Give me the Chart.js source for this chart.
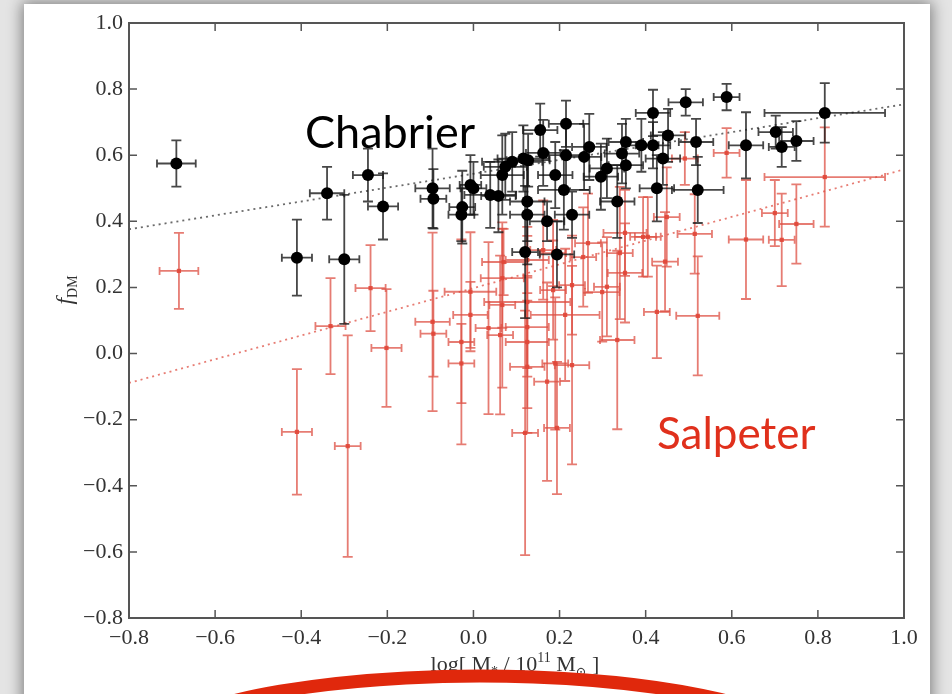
<!DOCTYPE html>
<html>
<head>
<meta charset="utf-8">
<script src="https://cdn.jsdelivr.net/npm/chart.js@4.4.1/dist/chart.umd.min.js"></script>
<style>
  html, body { margin: 0; padding: 0; background: #e4e4e4; overflow: hidden; }
  #slide { position: absolute; left: 24px; top: 4px; width: 906px; height: 740px;
           background: #fff; box-shadow: 0 0 14px 2px rgba(0,0,0,0.45); }
  #wrap { position: absolute; left: 0; top: 0; width: 952px; height: 694px; }
</style>
</head>
<body>
<div id="slide"></div>
<div id="wrap"><canvas id="myChart" width="952" height="694"></canvas></div>
<script>
// tick values
const xTicks = [-0.8, -0.6, -0.4, -0.2, 0.0, 0.2, 0.4, 0.6, 0.8, 1.0];
const yTicks = [-0.8, -0.6, -0.4, -0.2, 0.0, 0.2, 0.4, 0.6, 0.8, 1.0];

// Chabrier (black)
const chabX    = [-0.69, -0.41, -0.34, -0.30, -0.245, -0.21, -0.095, -0.093, -0.026, -0.028, -0.007, 0.0, 0.039, 0.058, 0.067, 0.074, 0.09, 0.116, 0.127, 0.125, 0.125, 0.12, 0.155, 0.162, 0.19, 0.171, 0.194, 0.215, 0.215, 0.21, 0.229, 0.257, 0.269, 0.296, 0.31, 0.334, 0.345, 0.354, 0.354, 0.39, 0.417, 0.417, 0.426, 0.44, 0.452, 0.493, 0.517, 0.521, 0.588, 0.633, 0.702, 0.716, 0.75, 0.816];
const chabY    = [0.575, 0.29, 0.485, 0.285, 0.54, 0.445, 0.50, 0.468, 0.443, 0.42, 0.51, 0.50, 0.48, 0.477, 0.54, 0.565, 0.58, 0.59, 0.585, 0.46, 0.42, 0.307, 0.676, 0.607, 0.54, 0.40, 0.30, 0.695, 0.60, 0.495, 0.42, 0.595, 0.625, 0.535, 0.56, 0.46, 0.605, 0.64, 0.57, 0.63, 0.63, 0.728, 0.50, 0.59, 0.66, 0.76, 0.64, 0.495, 0.776, 0.63, 0.67, 0.625, 0.643, 0.728];
const chabXErr = [0.045, 0.035, 0.04, 0.035, 0.035, 0.035, 0.04, 0.03, 0.03, 0.03, 0.025, 0.03, 0.06, 0.04, 0.05, 0.05, 0.07, 0.06, 0.05, 0.04, 0.04, 0.03, 0.04, 0.04, 0.04, 0.04, 0.04, 0.04, 0.04, 0.06, 0.04, 0.04, 0.04, 0.04, 0.04, 0.04, 0.04, 0.04, 0.04, 0.04, 0.04, 0.04, 0.04, 0.04, 0.04, 0.04, 0.04, 0.06, 0.03, 0.04, 0.04, 0.03, 0.04, 0.14];
const chabYErr = [0.07, 0.115, 0.08, 0.195, 0.08, 0.10, 0.12, 0.09, 0.11, 0.08, 0.09, 0.08, 0.10, 0.11, 0.12, 0.10, 0.09, 0.10, 0.08, 0.12, 0.15, 0.20, 0.08, 0.10, 0.10, 0.06, 0.10, 0.07, 0.10, 0.12, 0.07, 0.10, 0.10, 0.10, 0.09, 0.11, 0.09, 0.07, 0.07, 0.08, 0.07, 0.07, 0.10, 0.08, 0.08, 0.04, 0.07, 0.10, 0.04, 0.10, 0.05, 0.06, 0.06, 0.09];

// Salpeter (red)
const salpX    = [-0.684, -0.41, -0.332, -0.292, -0.239, -0.202, -0.095, -0.093, -0.028, -0.028, -0.007, -0.007, 0.035, 0.062, 0.067, 0.067, 0.07, 0.12, 0.125, 0.125, 0.125, 0.125, 0.125, 0.171, 0.185, 0.19, 0.194, 0.213, 0.229, 0.255, 0.266, 0.299, 0.31, 0.334, 0.34, 0.352, 0.352, 0.394, 0.405, 0.426, 0.445, 0.449, 0.491, 0.514, 0.521, 0.588, 0.633, 0.70, 0.716, 0.75, 0.816, 0.162, 0.185, 0.229];
const salpY    = [0.25, -0.237, 0.083, -0.28, 0.198, 0.017, 0.096, 0.06, 0.035, -0.03, 0.187, 0.117, 0.077, 0.056, 0.147, 0.228, 0.277, -0.24, -0.04, 0.035, 0.08, 0.156, 0.283, -0.085, 0.192, -0.03, -0.225, 0.117, -0.035, 0.292, 0.334, 0.186, 0.202, 0.041, 0.304, 0.244, 0.365, 0.353, 0.353, 0.126, 0.278, 0.413, 0.59, 0.362, 0.114, 0.607, 0.345, 0.425, 0.344, 0.392, 0.534, 0.313, 0.304, 0.207];
const salpXErr = [0.045, 0.035, 0.035, 0.03, 0.035, 0.035, 0.04, 0.03, 0.03, 0.03, 0.06, 0.04, 0.03, 0.03, 0.03, 0.05, 0.05, 0.03, 0.04, 0.05, 0.05, 0.10, 0.05, 0.03, 0.03, 0.03, 0.03, 0.08, 0.04, 0.03, 0.03, 0.04, 0.03, 0.04, 0.03, 0.04, 0.05, 0.03, 0.03, 0.03, 0.03, 0.03, 0.03, 0.04, 0.05, 0.03, 0.04, 0.03, 0.03, 0.04, 0.14, 0.03, 0.03, 0.03];
const salpYErr = [0.115, 0.19, 0.145, 0.335, 0.13, 0.178, 0.27, 0.13, 0.31, 0.12, 0.18, 0.10, 0.26, 0.24, 0.25, 0.15, 0.10, 0.37, 0.20, 0.20, 0.15, 0.20, 0.10, 0.30, 0.15, 0.20, 0.20, 0.20, 0.30, 0.15, 0.15, 0.15, 0.15, 0.27, 0.20, 0.15, 0.13, 0.12, 0.12, 0.14, 0.15, 0.15, 0.08, 0.12, 0.18, 0.075, 0.18, 0.10, 0.14, 0.12, 0.15, 0.15, 0.10, 0.15];

// dotted fit lines (end points)
const fitX     = [-0.8, 1.0];
const chabFitY = [0.376, 0.754];
const salpFitY = [-0.089, 0.557];

const pts = (xs, ys) => xs.map((x, i) => ({ x: x, y: ys[i] }));
const fmt = v => (v < 0 ? '\u2212' : '') + Math.abs(v).toFixed(1);

// draws a run of text pieces with sub/superscripts, centred on cx
function drawRich(ctx, parts, cx, cy) {
    let w = 0;
    parts.forEach(p => { ctx.font = p.font; w += ctx.measureText(p.t).width; });
    let x = cx - w / 2;
    ctx.textAlign = 'left';
    ctx.textBaseline = 'alphabetic';
    parts.forEach(p => {
        ctx.font = p.font;
        ctx.fillText(p.t, x, cy + (p.dy || 0));
        x += ctx.measureText(p.t).width;
    });
}

const overlay = {
    id: 'overlay',
    beforeDatasetDraw(chart, args) {
        const ds = chart.data.datasets[args.index];
        if (!ds.xErr) return;
        const ctx = chart.ctx, xs = chart.scales.x, ys = chart.scales.y;
        ctx.save();
        ctx.strokeStyle = ds.errColor;
        ctx.lineWidth = 1.8;
        ds.data.forEach((p, i) => {
            const px = xs.getPixelForValue(p.x), py = ys.getPixelForValue(p.y);
            const y0 = ys.getPixelForValue(p.y + ds.yErr[i]), y1 = ys.getPixelForValue(p.y - ds.yErr[i]);
            const x0 = xs.getPixelForValue(p.x - ds.xErr[i]), x1 = xs.getPixelForValue(p.x + ds.xErr[i]);
            ctx.beginPath();
            ctx.moveTo(px, y0); ctx.lineTo(px, y1);
            ctx.moveTo(px - 5, y0); ctx.lineTo(px + 5, y0);
            ctx.moveTo(px - 5, y1); ctx.lineTo(px + 5, y1);
            ctx.moveTo(x0, py); ctx.lineTo(x1, py);
            ctx.moveTo(x0, py - 4); ctx.lineTo(x0, py + 4);
            ctx.moveTo(x1, py - 4); ctx.lineTo(x1, py + 4);
            ctx.stroke();
        });
        ctx.restore();
    },
    afterDraw(chart) {
        const ctx = chart.ctx, a = chart.chartArea, xs = chart.scales.x, ys = chart.scales.y;
        ctx.save();
        // frame + inward ticks
        ctx.strokeStyle = '#555';
        ctx.lineWidth = 2;
        ctx.strokeRect(a.left, a.top, a.right - a.left, a.bottom - a.top);
        ctx.lineWidth = 1.5;
        ctx.beginPath();
        xTicks.forEach(v => {
            const px = xs.getPixelForValue(v);
            ctx.moveTo(px, a.bottom); ctx.lineTo(px, a.bottom - 8);
            ctx.moveTo(px, a.top); ctx.lineTo(px, a.top + 8);
        });
        yTicks.forEach(v => {
            const py = ys.getPixelForValue(v);
            ctx.moveTo(a.left, py); ctx.lineTo(a.left + 8, py);
            ctx.moveTo(a.right, py); ctx.lineTo(a.right - 8, py);
        });
        ctx.stroke();

        // annotations
        ctx.textAlign = 'left';
        ctx.textBaseline = 'alphabetic';
        ctx.font = '45px Lato';
        ctx.fillStyle = '#000';
        ctx.fillText('Chabrier', 305, 148);
        ctx.fillStyle = '#e0301c';
        ctx.font = '44px Lato';
        ctx.fillText('Salpeter', 657, 449);

        // axis titles
        ctx.fillStyle = '#333';
        const serif = '"Liberation Serif", "DejaVu Serif", serif';
        drawRich(ctx, [
            { t: 'log[ M', font: '22px ' + serif },
            { t: '*', font: '14px ' + serif, dy: 5 },
            { t: ' / 10', font: '22px ' + serif },
            { t: '11', font: '14px ' + serif, dy: -9 },
            { t: ' M', font: '22px ' + serif },
            { t: '\u2299', font: '13px ' + serif, dy: 5 },
            { t: ' ]', font: '22px ' + serif }
        ], 515, 671);
        ctx.save();
        ctx.translate(72, 290);
        ctx.rotate(-Math.PI / 2);
        drawRich(ctx, [
            { t: 'f', font: 'italic 24px ' + serif },
            { t: 'DM', font: '14px ' + serif, dy: 5 }
        ], 0, 0);
        ctx.restore();

        // red brush stroke
        ctx.strokeStyle = '#e0280c';
        ctx.lineWidth = 13;
        ctx.lineCap = 'round';
        ctx.beginPath();
        ctx.ellipse(480, 756, 340, 80, 0, Math.PI * 1.05, Math.PI * 1.95);
        ctx.stroke();
        ctx.restore();
    }
};

const serifTicks = { family: '"Liberation Serif", "DejaVu Serif", serif', size: 22 };

new Chart('myChart', {
    type: 'scatter',
    data: {
        datasets: [
            {
                label: 'Chabrier',
                data: pts(chabX, chabY),
                xErr: chabXErr, yErr: chabYErr,
                errColor: 'rgba(25,25,25,0.8)',
                pointStyle: 'circle',
                pointRadius: 6,
                backgroundColor: '#000',
                borderColor: '#000',
                borderWidth: 0,
            },
            {
                label: 'Salpeter',
                data: pts(salpX, salpY),
                xErr: salpXErr, yErr: salpYErr,
                errColor: 'rgba(222,80,68,0.75)',
                pointStyle: 'rect',
                pointRadius: 3,
                backgroundColor: 'rgba(225,70,55,0.9)',
                borderColor: 'rgba(225,70,55,0.9)',
                borderWidth: 0,
            },
            {
                type: 'line',
                data: pts(fitX, chabFitY),
                borderColor: 'rgba(90,90,90,0.9)',
                borderDash: [2, 4],
                borderWidth: 1.8,
                pointRadius: 0,
                fill: false,
            },
            {
                type: 'line',
                data: pts(fitX, salpFitY),
                borderColor: 'rgba(228,110,100,0.9)',
                borderDash: [2, 4],
                borderWidth: 1.8,
                pointRadius: 0,
                fill: false,
            },
        ],
    },
    options: {
        responsive: false,
        animation: false,
        devicePixelRatio: 1,
        layout: { padding: { left: 0, right: 48, top: 23, bottom: 0 } },
        plugins: { legend: { display: false }, tooltip: { enabled: false } },
        scales: {
            x: {
                type: 'linear', min: -0.8, max: 1.0,
                afterBuildTicks: s => { s.ticks = xTicks.map(v => ({ value: v })); },
                afterFit: s => { s.height = 76; },
                grid: { display: false, drawTicks: false },
                border: { display: false },
                ticks: { color: '#333', font: serifTicks, padding: 7, maxRotation: 0, callback: v => fmt(v) },
            },
            y: {
                type: 'linear', min: -0.8, max: 1.0,
                afterBuildTicks: s => { s.ticks = yTicks.map(v => ({ value: v })); },
                afterFit: s => { s.width = 129; },
                grid: { display: false, drawTicks: false },
                border: { display: false },
                ticks: { color: '#333', font: serifTicks, padding: 6, callback: v => fmt(v) },
            },
        },
    },
    plugins: [overlay],
});
</script>
</body>
</html>
